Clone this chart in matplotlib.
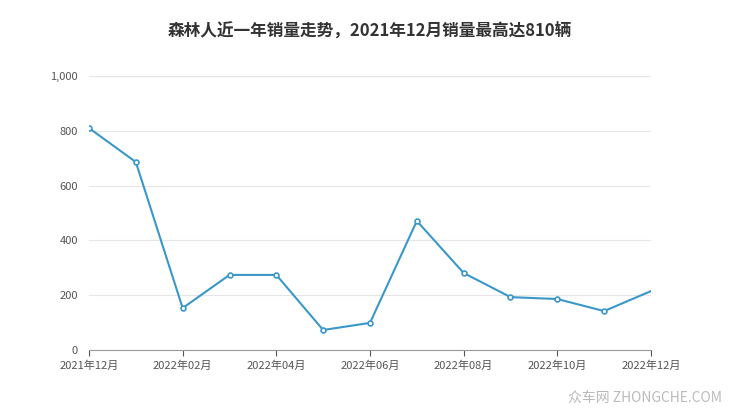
import matplotlib.pyplot as plt

plt.rcParams['font.family'] = ['Noto Sans CJK SC', 'DejaVu Sans']

months = ['2021年12月', '2022年01月', '2022年02月', '2022年03月', '2022年04月', '2022年05月',
          '2022年06月', '2022年07月', '2022年08月', '2022年09月', '2022年10月', '2022年11月',
          '2022年12月']
sales = [810, 686, 153, 274, 274, 73, 99, 471, 281, 193, 186, 142, 215]
yticks = [0, 200, 400, 600, 800, 1000]
ytick_labels = ['0', '200', '400', '600', '800', '1,000']

fig = plt.figure(figsize=(7.4, 4.17), dpi=100)
ax = fig.add_axes([89 / 740, 1 - 350 / 417, 562 / 740, 274 / 417])

x = list(range(len(months)))
color = '#3a97c9'
ax.plot(x, sales, color=color, lw=1.5, zorder=3)
ax.plot(x[:-1], sales[:-1], 'o', ms=3.5, mfc='white', mec=color, mew=1.2, zorder=4)

ax.set_xlim(0, len(months) - 1)
ax.set_ylim(0, 1000)
ax.set_yticks(yticks)
ax.set_yticklabels(ytick_labels)
ax.set_xticks(x[::2])
ax.set_xticklabels(months[::2])
ax.tick_params(axis='y', length=0, labelsize=8, colors='#555555', pad=8)
ax.tick_params(axis='x', length=4, labelsize=8, colors='#555555', width=0.8)
ax.grid(axis='y', color='#e6e6e6', lw=0.8)
for s in ['top', 'right', 'left']:
    ax.spines[s].set_visible(False)
ax.spines['bottom'].set_color('#999999')

fig.text(0.5, 1 - 32 / 417, '森林人近一年销量走势，2021年12月销量最高达810辆',
         ha='center', va='center', fontsize=12, fontweight='bold', color='#333333')
fig.text(0.975, 1 - 398 / 417, '众车网 ZHONGCHE.COM', ha='right', va='center',
         fontsize=10, color='#bbbbbb')

fig.savefig('out.png', dpi=100, facecolor='white')
